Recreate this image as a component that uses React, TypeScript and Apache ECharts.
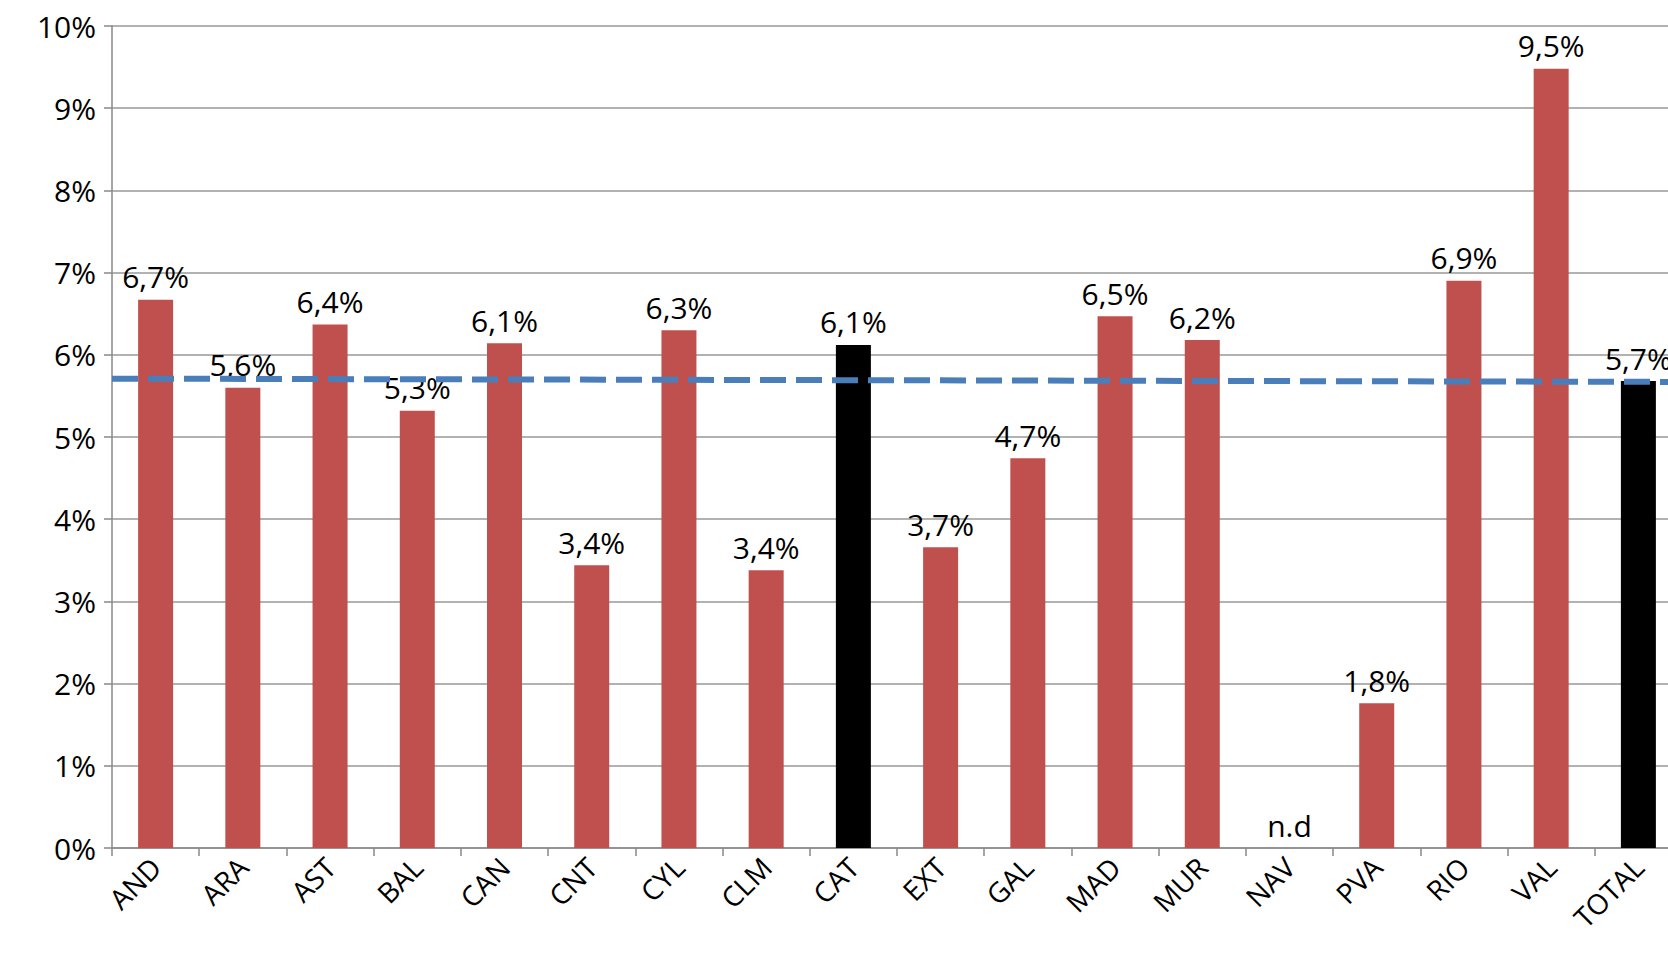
import React, { useEffect, useRef } from "react";
import * as echarts from "echarts";

const categories = ["AND", "ARA", "AST", "BAL", "CAN", "CNT", "CYL", "CLM", "CAT", "EXT", "GAL", "MAD", "MUR", "NAV", "PVA", "RIO", "VAL", "TOTAL"];
const values = [6.67, 5.6, 6.37, 5.32, 6.14, 3.44, 6.3, 3.38, 6.12, 3.66, 4.74, 6.47, 6.18, 0, 1.76, 6.9, 9.48, 5.68];
const labels = ["6,7%", "5,6%", "6,4%", "5,3%", "6,1%", "3,4%", "6,3%", "3,4%", "6,1%", "3,7%", "4,7%", "6,5%", "6,2%", "n.d", "1,8%", "6,9%", "9,5%", "5,7%"];
const blackBars = ["CAT", "TOTAL"];
const averageStart = 5.71;
const averageEnd = 5.67;

export default function App() {
    const chartRef = useRef<HTMLDivElement>(null);

    useEffect(() => {
        document.body.style.margin = "0";
        document.body.style.overflow = "hidden";
        if (chartRef.current === null) return;
        const chart = echarts.init(chartRef.current, undefined, { renderer: "svg" });
        const font = "'Open Sans', sans-serif";
        chart.setOption({
            animation: false,
            grid: { left: 112, top: 26, width: 1570, height: 822 },
            xAxis: {
                type: "category",
                data: categories,
                axisLine: { lineStyle: { color: "#888", width: 1.5 } },
                axisTick: { show: true, length: 8, lineStyle: { color: "#888", width: 1.5 } },
                axisLabel: { rotate: 45, color: "#000", fontSize: 28, fontFamily: font, margin: 14 },
            },
            yAxis: {
                type: "value",
                min: 0,
                max: 10,
                interval: 1,
                axisLine: { show: true, lineStyle: { color: "#888", width: 1.5 } },
                axisTick: { show: true, length: 8, lineStyle: { color: "#888", width: 1.5 } },
                splitLine: { lineStyle: { color: "#999", width: 1.5 } },
                axisLabel: { formatter: "{value}%", color: "#000", fontSize: 30, fontFamily: font, margin: 16 },
            },
            series: [
                {
                    type: "bar",
                    barWidth: 35,
                    data: values.map((v, i) => ({
                        value: v,
                        itemStyle: { color: blackBars.includes(categories[i]) ? "#000" : "#c0504d" },
                    })),
                    label: {
                        show: true,
                        position: "top",
                        distance: 8,
                        color: "#000",
                        fontSize: 30,
                        fontFamily: font,
                        formatter: (p: any) => labels[p.dataIndex],
                    },
                    markLine: {
                        silent: true,
                        symbol: "none",
                        label: { show: false },
                        lineStyle: { color: "#4a7ebb", width: 6, type: [26, 10] },
                        data: [[
                            { coord: [0, averageStart], x: 112 },
                            { coord: [17, averageEnd], x: 1682 },
                        ]],
                    },
                },
            ],
        });
        return () => chart.dispose();
    }, []);

    return (
        <div style={{ position: "fixed", left: 0, top: 0, width: 1668, height: 958, overflow: "hidden", background: "#fff" }}>
            <div ref={chartRef} style={{ width: 1700, height: 958 }} />
        </div>
    );
}
